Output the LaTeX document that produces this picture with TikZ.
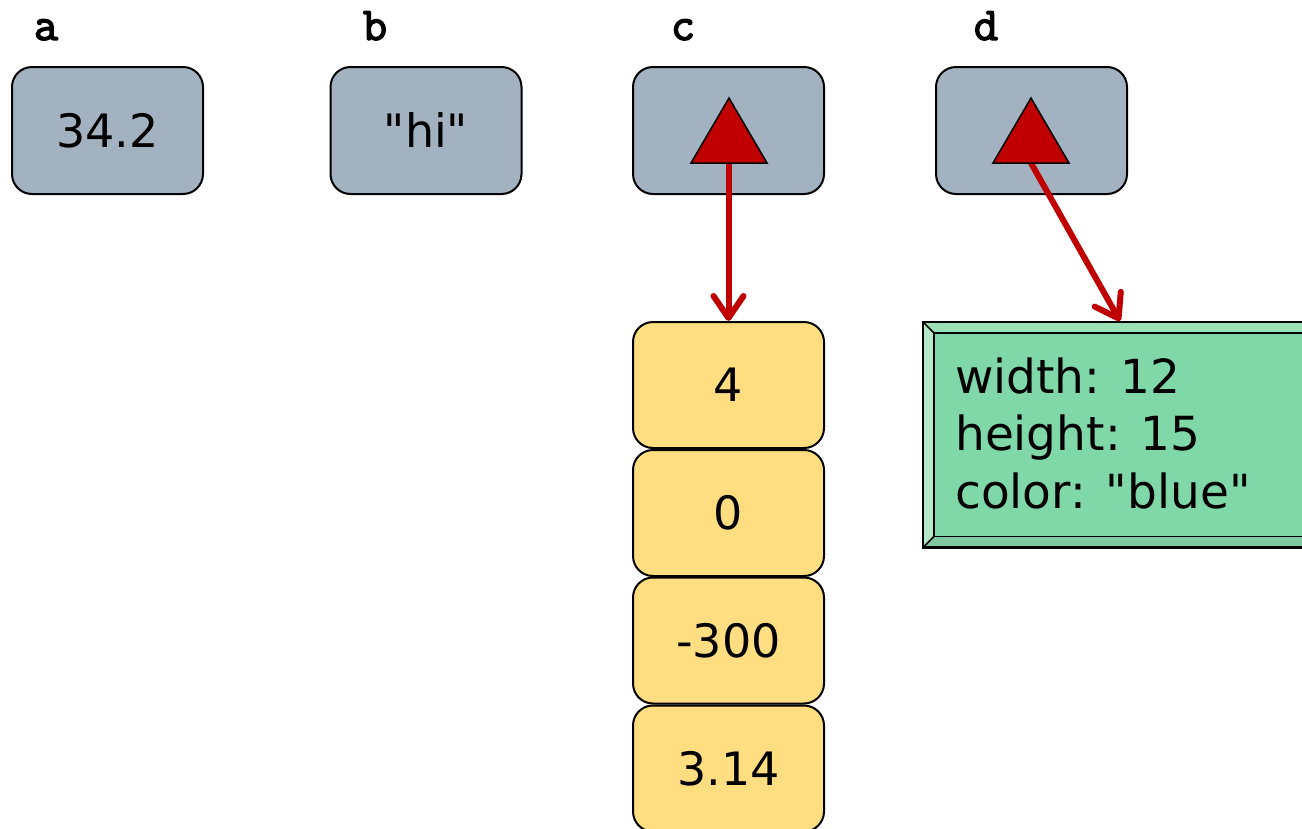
\documentclass[tikz,border=0pt]{standalone}
\usepackage{fontspec}
\setmainfont{DejaVu Sans}[Ligatures=TeXOff]
\newfontfamily\lblfont{Latin Modern Mono}[FakeBold=3]
\usetikzlibrary{arrows.meta,calc}
\definecolor{vargray}{HTML}{A3B2C1}
\definecolor{cellyellow}{HTML}{FFDE82}
\definecolor{objgreen}{HTML}{80D8A8}
\definecolor{bevtop}{HTML}{9BDFB7}
\definecolor{bevleft}{HTML}{B2E7C8}
\definecolor{bevbottom}{HTML}{7FC8A0}
\definecolor{ptrred}{HTML}{C00000}
\begin{document}
\begin{tikzpicture}[x=1pt,y=-1pt,
  var/.style={draw=black, line width=2pt, fill=vargray, rounded corners=20pt,
    minimum width=191pt, minimum height=127pt, inner sep=0pt,
    font=\fontsize{46}{55}\selectfont},
  cell/.style={var, fill=cellyellow, minimum height=126pt},
  vlabel/.style={font=\lblfont\fontsize{47}{47}\selectfont, inner sep=0pt, anchor=base},
  ptr/.style={draw=black, line width=1.5pt, fill=ptrred, line join=miter},
  ref/.style={draw=ptrred, line width=6pt,
    -{Straight Barb[length=22pt, width=30pt, line cap=round, line join=round]}},
  objtext/.style={font=\fontsize{47}{57.5}\selectfont, inner sep=0pt, align=left, anchor=west}]
\useasboundingbox (0,0) rectangle (1302,828);
\clip (0,0) rectangle (1302,828);

% variable labels
\node[vlabel] (la) at (46,40) {a};
\node[vlabel] (lb) at (375,40) {b};
\node[vlabel] (lc) at (683,40) {c};
\node[vlabel] (ld) at (986,40) {d};

% variable boxes
\node[var] (a) at (107.5,130.5) {34.2};
\node[var] (b) at (426,130.5) {"hi"};
\node[var] (c) at (728.5,130.5) {};
\node[var] (d) at (1031.5,130.5) {};

% list cells
\node[cell] (c1) at (728.5,385) {4};
\node[cell] (c2) at (728.5,513) {0};
\node[cell] (c3) at (728.5,640.5) {-300};
\node[cell] (c4) at (728.5,768.5) {3.14};

% object box with bevel
\node[draw=black, line width=2.5pt, fill=objgreen, minimum width=410pt,
  minimum height=223pt, anchor=north west, inner sep=0pt] (o) at (923,322) {};
\fill[bevtop] (o.north west) -- (o.north east) -- ++(-11,11) -- ($(o.north west)+(11,11)$) -- cycle;
\fill[bevbottom] (o.south west) -- ++(11,-11) -- ($(o.south east)+(-11,-11)$) -- (o.south east) -- cycle;
\fill[bevleft] (o.north west) -- ++(11,11) -- ($(o.south west)+(11,-11)$) -- (o.south west) -- cycle;
\draw[line width=1.5pt] ($(o.north west)+(11,11)$) rectangle ($(o.south east)+(-11,-11)$);
\draw[line width=1.5pt] (o.north west) -- ++(11,11) (o.south west) -- ++(11,-11);
\draw[line width=2.5pt] (o.north west) rectangle (o.south east);
\node[objtext] (ot) at (955,433) {width: 12\\height: 15\\color: "blue"};

% pointers
\coordinate (cp) at (728.5,163);
\coordinate (dp) at (1031,163);
\coordinate (dt) at (1120,321);
\draw[ref] (cp) -- (c1.north);
\draw[ref] (dp) -- (dt);
\draw[ptr] (691,163) -- (729,98) -- (767,163) -- cycle;
\draw[ptr] (993,163) -- (1031,98) -- (1069,163) -- cycle;
\end{tikzpicture}
\end{document}
